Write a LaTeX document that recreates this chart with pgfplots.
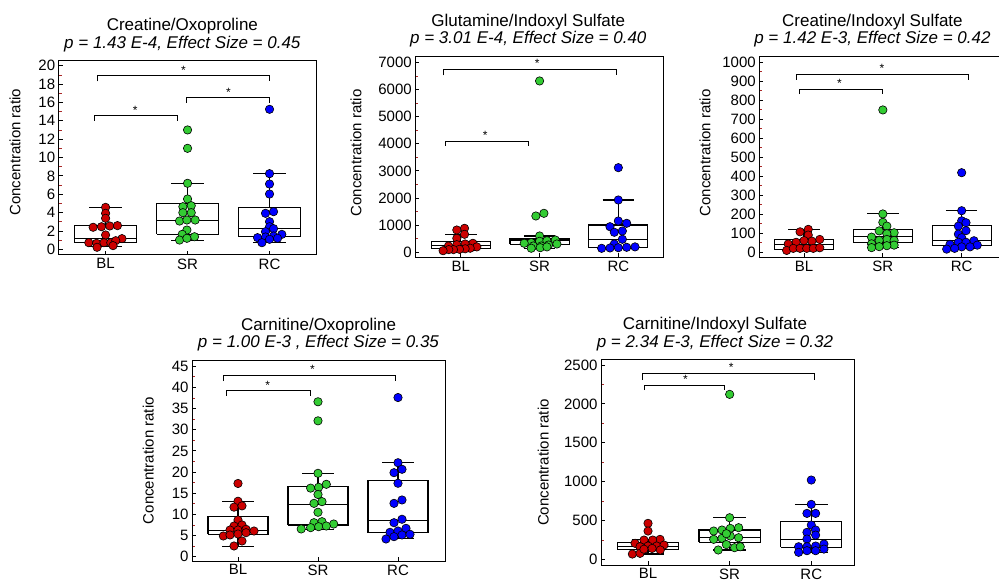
\documentclass[border=0pt]{standalone}
\usepackage{pgfplots}
\pgfplotsset{compat=1.18}
\usepackage{fontspec}
\setmainfont{Liberation Sans}
\definecolor{cRed}{RGB}{204,0,0}
\definecolor{cGreen}{RGB}{51,204,51}
\definecolor{cBlue}{RGB}{0,0,255}
\definecolor{cMinor}{RGB}{170,40,40}
\pgfplotsset{
 panel/.style={
  scale only axis, clip=false,
  axis line style={line width=1pt},
  tick align=inside, major tick length=4pt, minor tick length=3pt,
  xtick pos=bottom, ytick pos=left,
  xtick={1,2,3}, xticklabels={BL,SR,RC},
  minor y tick num=1,
  minor tick style={color=cMinor, line width=0.7pt},
  major tick style={black, line width=0.8pt},
  tick label style={font=\fontsize{15}{17}\selectfont},
  /pgf/number format/assume math mode=true,
  /pgf/number format/1000 sep={},
  scaled y ticks=false,
  ylabel={Concentration ratio},
  ylabel style={font=\fontsize{15}{17}\selectfont, anchor=center},
  title style={font=\fontsize{17}{17.4}\selectfont, align=center, anchor=south, at={(0.5,1)}, inner sep=0pt, yshift=3pt},
 },
 bx/.style={black, line width=1.1pt, solid},
 ptR/.style={only marks, mark=*, mark size=4.2pt, mark options={fill=cRed, draw=black, line width=0.6pt}},
 ptG/.style={only marks, mark=*, mark size=4.2pt, mark options={fill=cGreen, draw=black, line width=0.6pt}},
 ptB/.style={only marks, mark=*, mark size=4.2pt, mark options={fill=cBlue, draw=black, line width=0.6pt}},
 brk/.style={black, line width=0.8pt},
}
\newcommand{\sigstar}[2]{\node[font=\fontsize{12}{12}\selectfont, anchor=base, inner sep=0pt, yshift=1.5pt] at (axis cs:#1,#2) {*};}
% box: position, lower whisker, lower quartile, median, upper quartile, upper whisker
\newcommand{\bxp}[6]{%
 \pgfmathsetmacro\bxl{#1-0.375}\pgfmathsetmacro\bxr{#1+0.375}%
 \pgfmathsetmacro\cxl{#1-0.2}\pgfmathsetmacro\cxr{#1+0.2}%
 \edef\bxtmp{%
  \noexpand\addplot[bx] coordinates {(#1,#2) (#1,#3)};
  \noexpand\addplot[bx] coordinates {(#1,#5) (#1,#6)};
  \noexpand\addplot[bx] coordinates {(\cxl,#2) (\cxr,#2)};
  \noexpand\addplot[bx] coordinates {(\cxl,#6) (\cxr,#6)};
  \noexpand\addplot[bx, fill=white, line join=miter] coordinates {(\bxl,#3) (\bxr,#3) (\bxr,#5) (\bxl,#5) (\bxl,#3)};
  \noexpand\addplot[black, line width=0.9pt] coordinates {(\bxl,#4) (\bxr,#4)};
 }\bxtmp}
\begin{document}
\begin{tikzpicture}
\useasboundingbox (0pt,0pt) rectangle (999pt,-585pt);
% ---------------- Panel 1
\begin{axis}[panel, at={(58.7pt,-255pt)}, anchor=south west, width=257.3pt, height=194pt,
 xmin=0.428, xmax=3.567, ymin=-0.62, ymax=20.51, ytick={0,2,...,20},
 ylabel style={at={(axis description cs:-0.170,0.53)}},
 title style={xshift=-5pt},
 title={Creatine/Oxoproline\\\textit{p = 1.43 E-4, Effect Size = 0.45}}]
\bxp{1}{0.28}{0.72}{1.16}{2.57}{4.57}
\bxp{2}{1.0}{1.65}{3.19}{4.95}{7.19}
\bxp{3}{0.72}{1.37}{2.25}{4.57}{8.24}
\addplot[ptR] coordinates {(1,4.57) (1,3.92) (1,3.38) (0.848,2.40) (0.95,2.46) (1.051,2.54) (1.145,2.58) (1,1.56) (1.2,1.16) (0.795,0.72) (0.89,0.65) (0.98,0.72) (1.063,0.72) (1.124,0.94) (0.896,0.22) (1.091,0.4)};
\addplot[ptG] coordinates {(2,13.0) (2,11.0) (2,7.19) (2,5.48) (1.943,4.64) (2.045,4.75) (1.943,3.99) (2.045,3.99) (1.902,3.08) (1.992,3.19) (2.093,3.19) (1.992,2.1) (1.935,1.63) (2.085,1.37) (1.902,1.01) (1.992,1.2)};
\addplot[ptB] coordinates {(3,15.25) (3,8.24) (3,7.11) (3,6.02) (2.951,3.92) (3.049,4.1) (3,3.01) (3,2.46) (2.951,1.92) (3.049,2.25) (2.854,1.27) (3.150,1.63) (3.049,1.45) (2.951,1.34) (2.907,0.72) (3,1.09) (3.098,1.2)};
\addplot[brk] coordinates {(0.9,18.3) (0.9,18.9) (3.0,18.9) (3.0,18.3)};
\addplot[brk] coordinates {(0.86,14.0) (0.86,14.55) (1.87,14.55) (1.87,14.0)};
\addplot[brk] coordinates {(1.99,15.95) (1.99,16.5) (3.0,16.5) (3.0,15.95)};
\sigstar{1.95}{18.9}
\sigstar{1.36}{14.55}
\sigstar{2.5}{16.5}
\end{axis}
% ---------------- Panel 2
\begin{axis}[panel, at={(415.3pt,-257.3pt)}, anchor=south west, width=248pt, height=200.6pt,
 xmin=0.422, xmax=3.571, ymin=-184, ymax=7206, ytick={0,1000,...,7000},
 ylabel style={at={(axis description cs:-0.239,0.52)}},
 title style={xshift=-11pt},
 title={Glutamine/Indoxyl Sulfate\\\textit{p = 3.01 E-4, Effect Size = 0.40}}]
\bxp{1}{59}{147}{243}{391}{663}
\bxp{2}{150}{295}{427}{490}{601}
\bxp{3}{147}{170}{490}{1006}{1927}
\addplot[ptR] coordinates {(1.047,884) (0.949,822) (1.047,663) (0.949,516) (1.153,332) (1.055,306) (0.949,280) (0.843,232) (1.203,200) (1.119,150) (1.055,130) (0.983,110) (0.907,100) (0.847,100) (0.775,59)};
\addplot[ptG] coordinates {(2,6312) (2.055,1437) (1.953,1338) (2,601) (1.894,354) (2,405) (2.093,427) (2.199,453) (1.805,332) (1.92,232) (2.021,232) (2.114,269) (2.220,306) (1.894,150) (2.008,170) (2.093,200)};
\addplot[ptB] coordinates {(3,3118) (3,1927) (3,1153) (3.106,1068) (2.894,943) (2.949,737) (3.051,785) (3.051,479) (2.949,306) (2.788,147) (2.894,160) (3,170) (3.106,184) (3.212,200)};
\addplot[brk] coordinates {(0.78,6522) (0.78,6744) (2.97,6744) (2.97,6522)};
\addplot[brk] coordinates {(0.8,3917) (0.8,4090) (1.86,4090) (1.86,3917)};
\sigstar{1.97}{6744}
\sigstar{1.31}{4090}
\end{axis}
% ---------------- Panel 3
\begin{axis}[panel, at={(759.3pt,-257.3pt)}, anchor=south west, width=247.3pt, height=200.6pt,
 xmin=0.433, xmax=3.57, ymin=-26, ymax=1029, ytick={0,100,...,1000},
 ylabel style={at={(axis description cs:-0.2196,0.52)}},
 title style={xshift=-10.5pt},
 title={Creatine/Indoxyl Sulfate\\\textit{p = 1.42 E-3, Effect Size = 0.42}}]
\bxp{1}{8}{16}{42}{68}{121}
\bxp{2}{25}{53}{82}{121}{202}
\bxp{3}{21}{38}{61}{140}{219}
\addplot[ptR] coordinates {(1.054,121) (0.95,108) (1.054,91) (1.2,68) (1.1,59) (1.0,62) (0.9,53) (0.8,44) (0.78,10) (0.864,21) (0.95,21) (1.034,21) (1.118,21) (1.2,24)};
\addplot[ptG] coordinates {(2,749) (2,202) (2,158) (2.051,138) (1.954,113) (2.143,103) (2.051,98) (1.857,80) (2.051,68) (1.954,63) (2.143,63) (1.857,45) (2.143,38) (2.051,35) (1.954,30) (1.857,25)};
\addplot[ptB] coordinates {(3,419) (3,219) (3,166) (3.055,156) (2.958,138) (3.055,114) (2.958,96) (3,77) (3.156,61) (2.958,53) (3.055,53) (2.852,42) (3.198,38) (3,29) (3.106,29) (2.911,21) (2.81,17)};
\addplot[brk] coordinates {(0.9,907) (0.9,938) (3.09,938) (3.09,907)};
\addplot[brk] coordinates {(0.94,832) (0.94,858) (1.99,858) (1.99,832)};
\sigstar{1.99}{938}
\sigstar{1.45}{858}
\end{axis}
% ---------------- Panel 4
\begin{axis}[panel, at={(192pt,-561pt)}, anchor=south west, width=253pt, height=200.7pt,
 xmin=0.425, xmax=3.5875, ymin=-1.02, ymax=46.4, ytick={0,5,...,45},
 ylabel style={at={(axis description cs:-0.1727,0.5)}},
 title style={xshift=0pt},
 title={Carnitine/Oxoproline\\\textit{p = 1.00 E-3 , Effect Size = 0.35}}]
\bxp{1}{2.46}{5.29}{6.3}{9.45}{13.1}
\bxp{2}{6.5}{7.49}{12.4}{16.5}{19.7}
\bxp{3}{4.2}{5.67}{8.67}{17.9}{22.2}
\addplot[ptR] coordinates {(1,17.3) (1,13.1) (0.95,11.7) (1.05,12.0) (1,8.67) (0.95,7.25) (1.05,7.49) (0.9,6.3) (1,6.3) (1.1,6.47) (0.817,4.89) (0.9,5.13) (1,5.36) (1.1,5.67) (1.2,6.07) (1.05,3.71) (0.95,2.53)};
\addplot[ptG] coordinates {(2,36.6) (2,32.1) (2,19.7) (1.908,16.2) (2.008,16.4) (2.104,17.1) (2,14.7) (1.95,12.6) (2.05,13.0) (2,10.5) (1.95,8.03) (2.05,8.27) (2.196,7.72) (1.79,6.55) (1.908,6.86) (2.008,7.09) (2.104,7.25)};
\addplot[ptB] coordinates {(3,37.6) (3,22.2) (2.95,19.85) (3.05,20.65) (3,17.35) (2.95,12.6) (3.05,13.4) (3.05,8.84) (2.95,8.03) (2.9,5.76) (3,6.07) (3.1,6.7) (2.85,4.18) (2.95,4.73) (3.05,5.13) (3.15,5.29)};
\addplot[brk] coordinates {(0.82,41.5) (0.82,42.86) (2.97,42.86) (2.97,41.5)};
\addplot[brk] coordinates {(0.86,37.97) (0.86,39.2) (1.9,39.2) (1.9,37.97)};
\sigstar{1.93}{42.86}
\sigstar{1.37}{39.2}
\end{axis}
% ---------------- Panel 5
\begin{axis}[panel, at={(601pt,-565pt)}, anchor=south west, width=253.3pt, height=205pt,
 xmin=0.424, xmax=3.527, ymin=-73, ymax=2564, ytick={0,500,...,2500},
 ylabel style={at={(axis description cs:-0.2278,0.5)}},
 title style={xshift=-12.7pt},
 title={Carnitine/Indoxyl Sulfate\\\textit{p = 2.34 E-3, Effect Size = 0.32}}]
\bxp{1}{68}{129}{171}{213}{257}
\bxp{2}{120}{219}{283}{377}{535}
\bxp{3}{90}{154}{261}{484}{707}
\addplot[ptR] coordinates {(1,463) (1,364) (1.147,257) (1.057,248) (0.951,248) (0.841,206) (0.902,162) (1,171) (1.106,171) (1.196,184) (0.808,68) (0.902,77) (0.95,130) (1.05,140) (1.15,120)};
\addplot[ptG] coordinates {(2,2122) (2,535) (1.804,364) (1.906,377) (2.008,398) (2.11,407) (1.804,257) (1.906,270) (2.008,300) (2.11,278) (1.86,120) (1.96,190) (2.06,150) (2.13,162) (1.96,330)};
\addplot[ptB] coordinates {(3,1020) (3,707) (2.947,591) (3.053,591) (3,441) (2.947,347) (3.053,377) (3.053,312) (2.947,261) (2.845,162) (2.947,162) (3.053,171) (3.155,197) (2.845,90) (2.947,111) (3.053,111) (3.155,132)};
\addplot[brk] coordinates {(0.93,2306) (0.93,2393) (3.04,2393) (3.04,2306)};
\addplot[brk] coordinates {(0.96,2178) (0.96,2242) (1.94,2242) (1.94,2178)};
\sigstar{2.02}{2393}
\sigstar{1.46}{2242}
\end{axis}
\end{tikzpicture}
\end{document}
